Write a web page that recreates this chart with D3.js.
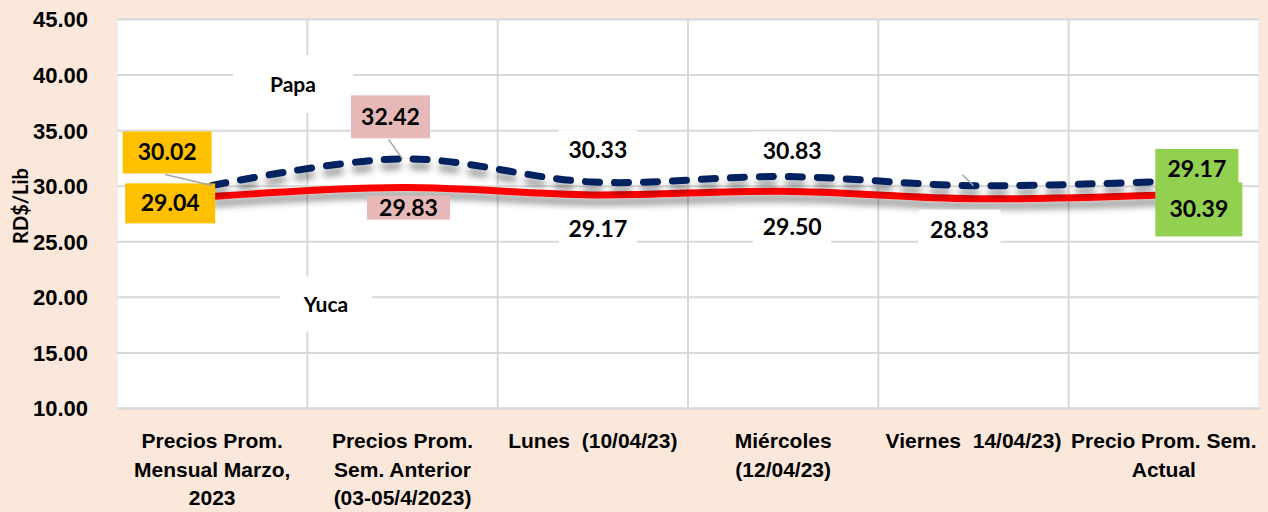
<!DOCTYPE html>
<html>
<head>
<meta charset="utf-8">
<script src="https://cdn.jsdelivr.net/npm/d3@7"></script>
<style>
  body { margin: 0; background: #fbe8da; }
  svg { display: block; font-family: Lato, "Open Sans", sans-serif; font-weight: bold; }
  svg text { white-space: pre; }
  .tick text { fill: #000; }
</style>
</head>
<body>
<div id="chart"></div>
<script>
// categories (multi-line labels)
const categories = [
  ["Precios Prom.", "Mensual Marzo,", "2023"],
  ["Precios Prom.", "Sem. Anterior", "(03-05/4/2023)"],
  ["Lunes  (10/04/23)"],
  ["Miércoles", "(12/04/23)"],
  ["Viernes  14/04/23)"],
  ["Precio Prom. Sem.", "Actual"]
];
const papa = [30.02, 32.42, 30.33, 30.83, 30.00, 30.39];
const yuca = [29.04, 29.83, 29.17, 29.50, 28.83, 29.17];
const yTicks = [10, 15, 20, 25, 30, 35, 40, 45];

// label layout (offsets from the point, box size, leader line)
const boxFills = ["#ffc000", "#e6b9b8", "#fff", "#fff", "#fff", "#92d050"];
const papaLabels = [
  { dx: -45, dy: -33, w: 89, h: 42, leader: true },
  { dx: -12, dy: -42, w: 79, h: 43, leader: true },
  { dx: 5, dy: -32, w: 78, h: 40 },
  { dx: 9, dy: -25, w: 78, h: 40 },
  { dx: -9, dy: -12, w: 0, h: 0, leader: true, hidden: true },
  { dx: 35, dy: 28, w: 87, h: 54 }
];
const yucaLabels = [
  { dx: -42, dy: 7, w: 90, h: 40 },
  { dx: 6, dy: 20, w: 83, h: 24 },
  { dx: 5, dy: 34, w: 78, h: 38 },
  { dx: 9, dy: 36, w: 78, h: 38 },
  { dx: -14, dy: 31, w: 82, h: 40 },
  { dx: 33, dy: -26, w: 83, h: 40 }
];

let width = 1268;
let height = 512;
let margin = { top: 19, right: 9, bottom: 104, left: 117 };
let innerW = width - margin.left - margin.right;
let innerH = height - margin.top - margin.bottom;

let svg = d3.select("#chart")
  .append("svg")
  .attr("width", width)
  .attr("height", height);

svg.append("rect").attr("width", width).attr("height", height).attr("fill", "#fbe8da");

/* shadow under the lines */
let filter = svg.append("defs").append("filter")
  .attr("id", "shadow")
  .attr("x", "-5%").attr("y", "-100%")
  .attr("width", "110%").attr("height", "400%");
filter.append("feGaussianBlur").attr("in", "SourceAlpha").attr("stdDeviation", 3.5);
filter.append("feOffset").attr("dy", 7).attr("result", "off");
filter.append("feComponentTransfer").call(f => f.append("feFuncA").attr("type", "linear").attr("slope", 0.42));
let merge = filter.append("feMerge");
merge.append("feMergeNode");
merge.append("feMergeNode").attr("in", "SourceGraphic");

let g = svg.append("g").attr("transform", `translate(${margin.left},${margin.top})`);

g.append("rect")
  .attr("width", innerW).attr("height", innerH)
  .attr("fill", "#fff")
  .attr("stroke", "#e6e6e6");

/* Scales */
let xBand = d3.scaleBand()
  .domain(d3.range(categories.length))
  .range([0, innerW]);
let xc = i => xBand(i) + xBand.bandwidth() / 2;

let yScale = d3.scaleLinear()
  .domain([10, 45])
  .range([innerH, 0]);

/* Gridlines + y axis */
let yAxis = d3.axisLeft(yScale)
  .tickValues(yTicks)
  .tickSize(-innerW)
  .tickPadding(29)
  .tickFormat(d3.format(".2f"));

g.append("g")
  .attr("class", "y axis")
  .call(yAxis)
  .call(a => a.select(".domain").remove())
  .call(a => a.selectAll("line").attr("stroke", "#d9d9d9").attr("stroke-width", 2))
  .call(a => a.selectAll("text").attr("font-size", 22).attr("dy", "0.36em"));

g.append("g")
  .selectAll("line")
  .data(d3.range(1, categories.length))
  .enter()
  .append("line")
  .attr("x1", d => xBand(d)).attr("x2", d => xBand(d))
  .attr("y1", 0).attr("y2", innerH)
  .attr("stroke", "#d9d9d9").attr("stroke-width", 2);

/* x axis labels */
let xAxis = d3.axisBottom(xBand).tickSize(0).tickFormat("");
let xg = g.append("g")
  .attr("class", "x axis")
  .attr("transform", `translate(0,${innerH})`)
  .call(xAxis);
xg.select(".domain").attr("stroke", "#d9d9d9").attr("stroke-width", 2);
xg.selectAll(".tick").each(function (d) {
  let t = d3.select(this).append("text")
    .attr("text-anchor", "middle")
    .attr("font-size", 21)
    .attr("fill", "#000");
  categories[d].forEach((line, k) => {
    t.append("tspan").attr("x", 0).attr("y", 40 + k * 28.5).text(line);
  });
});

/* y label */
svg.append("text")
  .attr("transform", `translate(28,${206}) rotate(-90)`)
  .attr("text-anchor", "middle")
  .attr("font-size", 20)
  .text("RD$/Lib");

/* Series name boxes */
let names = [
  { name: "Papa", x: 176, y: 65, w: 120, h: 58 },
  { name: "Yuca", x: 209, y: 285, w: 92, h: 55 }
];
names.forEach(n => {
  g.append("rect").attr("x", n.x - n.w / 2).attr("y", n.y - n.h / 2)
    .attr("width", n.w).attr("height", n.h).attr("fill", "#fff");
  g.append("text").attr("x", n.x).attr("y", n.y + 7.5)
    .attr("text-anchor", "middle").attr("font-size", 21).text(n.name);
});

/* Lines */
let line = d3.line()
  .x((d, i) => xc(i))
  .y(d => yScale(d))
  .curve(d3.curveCatmullRom.alpha(0.5));

g.append("path")
  .attr("d", line(yuca))
  .attr("fill", "none")
  .attr("stroke", "#ff0000")
  .attr("stroke-width", 7)
  .attr("filter", "url(#shadow)");

g.append("path")
  .attr("d", line(papa))
  .attr("fill", "none")
  .attr("stroke", "#002060")
  .attr("stroke-width", 7)
  .attr("stroke-linecap", "round")
  .attr("stroke-dasharray", "14 15")
  .attr("filter", "url(#shadow)");

/* Data labels */
function drawLabels(values, layout) {
  values.forEach((v, i) => {
    let L = layout[i];
    let px = xc(i), py = yScale(v);
    let lx = px + L.dx, ly = py + L.dy;
    if (L.leader) {
      g.append("line")
        .attr("x1", lx - 2).attr("y1", ly + L.h / 2 + 1)
        .attr("x2", px).attr("y2", py)
        .attr("stroke", "#a6a6a6").attr("stroke-width", 1.5);
    }
    if (L.hidden) return;
    g.append("rect")
      .attr("x", lx - L.w / 2).attr("y", ly - L.h / 2)
      .attr("width", L.w).attr("height", L.h)
      .attr("fill", boxFills[i]);
    g.append("text")
      .attr("x", lx).attr("y", ly + 8)
      .attr("text-anchor", "middle")
      .attr("font-size", 23)
      .text(d3.format(".2f")(v));
  });
}
drawLabels(yuca, yucaLabels);
drawLabels(papa, papaLabels);
</script>
</body>
</html>
